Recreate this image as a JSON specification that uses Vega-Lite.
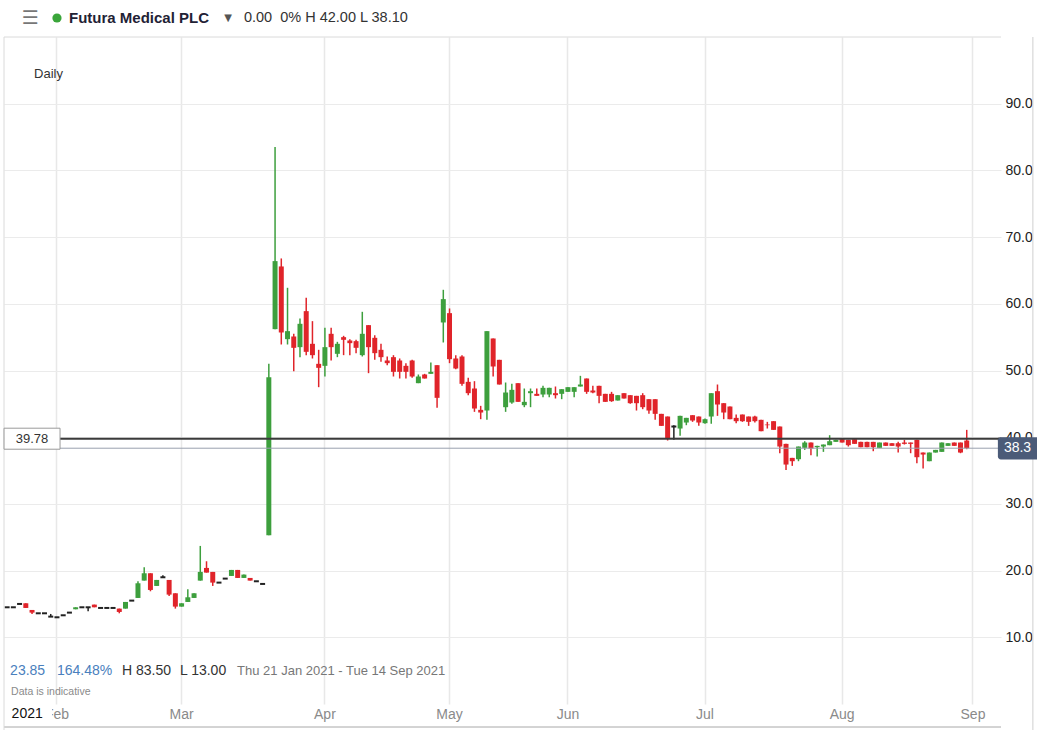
{
  "$schema": "https://vega.github.io/schema/vega-lite/v6.json",
  "width": 997,
  "height": 667,
  "autosize": "none",
  "padding": {"left": 4, "top": 37, "right": 36, "bottom": 26},
  "background": "white",
  "config": {"view": {"stroke": null}, "font": "Liberation Sans"},
  "data": {"values": [
    {"d":"2021-01-20","o":14.5,"h":14.5,"l":14.5,"c":14.5},
    {"d":"2021-01-21","o":14.5,"h":14.5,"l":14.5,"c":14.5},
    {"d":"2021-01-22","o":15.0,"h":15.0,"l":15.0,"c":15.0},
    {"d":"2021-01-25","o":15.1,"h":15.1,"l":14.4,"c":14.4},
    {"d":"2021-01-26","o":14.1,"h":14.1,"l":13.5,"c":13.7},
    {"d":"2021-01-27","o":13.6,"h":13.6,"l":13.6,"c":13.6},
    {"d":"2021-01-28","o":13.6,"h":13.6,"l":13.6,"c":13.6},
    {"d":"2021-01-29","o":13.1,"h":13.5,"l":13.1,"c":13.1},
    {"d":"2021-02-01","o":13.0,"h":13.0,"l":13.0,"c":13.0},
    {"d":"2021-02-02","o":13.3,"h":13.3,"l":13.3,"c":13.3},
    {"d":"2021-02-03","o":13.7,"h":13.7,"l":13.7,"c":13.7},
    {"d":"2021-02-04","o":14.2,"h":14.5,"l":14.2,"c":14.5},
    {"d":"2021-02-05","o":14.5,"h":14.5,"l":14.5,"c":14.5},
    {"d":"2021-02-08","o":14.5,"h":14.5,"l":13.9,"c":14.5},
    {"d":"2021-02-09","o":14.9,"h":14.9,"l":14.5,"c":14.5},
    {"d":"2021-02-10","o":14.4,"h":14.4,"l":14.4,"c":14.4},
    {"d":"2021-02-11","o":14.4,"h":14.4,"l":14.4,"c":14.4},
    {"d":"2021-02-12","o":14.4,"h":14.4,"l":14.4,"c":14.4},
    {"d":"2021-02-15","o":14.3,"h":14.3,"l":13.6,"c":13.8},
    {"d":"2021-02-16","o":14.3,"h":15.3,"l":14.3,"c":15.3},
    {"d":"2021-02-17","o":15.5,"h":15.5,"l":15.5,"c":15.5},
    {"d":"2021-02-18","o":15.9,"h":18.4,"l":15.9,"c":18.1},
    {"d":"2021-02-19","o":18.5,"h":20.5,"l":18.5,"c":19.6},
    {"d":"2021-02-22","o":19.6,"h":19.6,"l":16.9,"c":17.1},
    {"d":"2021-02-23","o":17.7,"h":18.6,"l":17.7,"c":18.6},
    {"d":"2021-02-24","o":19.0,"h":19.3,"l":19.0,"c":19.0},
    {"d":"2021-02-25","o":18.6,"h":18.6,"l":16.2,"c":16.4},
    {"d":"2021-02-26","o":16.6,"h":16.6,"l":14.3,"c":14.6},
    {"d":"2021-03-01","o":14.6,"h":15.1,"l":14.6,"c":15.1},
    {"d":"2021-03-02","o":15.3,"h":17.2,"l":15.3,"c":16.0},
    {"d":"2021-03-03","o":15.9,"h":16.6,"l":15.9,"c":16.6},
    {"d":"2021-03-04","o":18.5,"h":23.7,"l":18.5,"c":19.8},
    {"d":"2021-03-05","o":20.4,"h":21.4,"l":19.7,"c":19.7},
    {"d":"2021-03-08","o":19.8,"h":19.8,"l":17.7,"c":18.2},
    {"d":"2021-03-09","o":18.2,"h":18.2,"l":18.2,"c":18.2},
    {"d":"2021-03-10","o":18.8,"h":18.8,"l":18.8,"c":18.8},
    {"d":"2021-03-11","o":19.2,"h":20.1,"l":19.2,"c":20.1},
    {"d":"2021-03-12","o":20.1,"h":20.1,"l":18.9,"c":18.9},
    {"d":"2021-03-15","o":18.9,"h":19.4,"l":18.9,"c":19.4},
    {"d":"2021-03-16","o":18.9,"h":18.9,"l":18.5,"c":18.5},
    {"d":"2021-03-17","o":18.4,"h":18.4,"l":18.4,"c":18.4},
    {"d":"2021-03-18","o":18.0,"h":18.0,"l":18.0,"c":18.0},
    {"d":"2021-03-19","o":25.3,"h":51.0,"l":25.3,"c":49.0},
    {"d":"2021-03-22","o":56.2,"h":83.5,"l":56.2,"c":66.4},
    {"d":"2021-03-23","o":65.6,"h":66.8,"l":53.9,"c":55.7},
    {"d":"2021-03-24","o":54.7,"h":62.4,"l":53.9,"c":55.9},
    {"d":"2021-03-25","o":55.1,"h":55.5,"l":49.9,"c":53.4},
    {"d":"2021-03-26","o":53.5,"h":57.8,"l":52.0,"c":57.0},
    {"d":"2021-03-29","o":58.9,"h":60.9,"l":52.3,"c":52.8},
    {"d":"2021-03-30","o":54.0,"h":57.4,"l":51.8,"c":52.3},
    {"d":"2021-03-31","o":51.0,"h":53.1,"l":47.5,"c":50.4},
    {"d":"2021-04-01","o":50.7,"h":56.4,"l":49.1,"c":53.5},
    {"d":"2021-04-06","o":55.5,"h":56.4,"l":51.5,"c":53.5},
    {"d":"2021-04-07","o":52.5,"h":54.3,"l":52.0,"c":54.0},
    {"d":"2021-04-08","o":55.0,"h":55.2,"l":52.3,"c":54.6},
    {"d":"2021-04-09","o":54.5,"h":54.7,"l":52.3,"c":54.1},
    {"d":"2021-04-12","o":54.4,"h":54.6,"l":52.6,"c":53.4},
    {"d":"2021-04-13","o":52.3,"h":58.8,"l":52.1,"c":55.5},
    {"d":"2021-04-14","o":56.8,"h":56.8,"l":49.6,"c":53.5},
    {"d":"2021-04-15","o":54.9,"h":55.3,"l":51.6,"c":52.6},
    {"d":"2021-04-16","o":53.1,"h":54.0,"l":51.3,"c":52.0},
    {"d":"2021-04-19","o":51.5,"h":52.1,"l":50.8,"c":51.1},
    {"d":"2021-04-20","o":52.0,"h":52.3,"l":49.1,"c":49.8},
    {"d":"2021-04-21","o":51.5,"h":51.8,"l":48.8,"c":49.8},
    {"d":"2021-04-22","o":50.7,"h":51.1,"l":48.8,"c":49.8},
    {"d":"2021-04-23","o":51.5,"h":51.6,"l":48.9,"c":49.1},
    {"d":"2021-04-26","o":48.1,"h":49.4,"l":48.1,"c":49.1},
    {"d":"2021-04-27","o":49.4,"h":49.5,"l":48.8,"c":48.8},
    {"d":"2021-04-28","o":49.5,"h":51.2,"l":49.5,"c":49.8},
    {"d":"2021-04-29","o":50.8,"h":50.8,"l":44.4,"c":45.9},
    {"d":"2021-04-30","o":57.2,"h":62.1,"l":54.2,"c":60.7},
    {"d":"2021-05-04","o":58.6,"h":59.3,"l":51.1,"c":51.7},
    {"d":"2021-05-05","o":51.8,"h":52.3,"l":50.2,"c":50.3},
    {"d":"2021-05-06","o":52.1,"h":52.3,"l":47.7,"c":48.0},
    {"d":"2021-05-07","o":48.3,"h":48.9,"l":46.3,"c":46.6},
    {"d":"2021-05-10","o":47.3,"h":48.4,"l":43.8,"c":44.3},
    {"d":"2021-05-11","o":44.1,"h":44.7,"l":42.7,"c":43.7},
    {"d":"2021-05-12","o":44.0,"h":55.9,"l":42.6,"c":55.9},
    {"d":"2021-05-13","o":54.8,"h":54.8,"l":49.1,"c":50.6},
    {"d":"2021-05-14","o":51.6,"h":51.6,"l":47.9,"c":47.9},
    {"d":"2021-05-17","o":44.5,"h":48.2,"l":43.8,"c":46.7},
    {"d":"2021-05-18","o":45.2,"h":48.0,"l":45.0,"c":47.1},
    {"d":"2021-05-19","o":48.1,"h":48.1,"l":45.3,"c":45.3},
    {"d":"2021-05-20","o":44.8,"h":47.3,"l":44.5,"c":45.3},
    {"d":"2021-05-21","o":46.6,"h":47.3,"l":44.5,"c":46.9},
    {"d":"2021-05-24","o":46.5,"h":47.3,"l":46.2,"c":46.2},
    {"d":"2021-05-25","o":46.4,"h":47.7,"l":46.0,"c":47.4},
    {"d":"2021-05-26","o":46.4,"h":47.4,"l":46.0,"c":47.4},
    {"d":"2021-05-27","o":46.6,"h":47.6,"l":45.8,"c":46.3},
    {"d":"2021-05-28","o":46.5,"h":47.2,"l":45.7,"c":47.2},
    {"d":"2021-06-01","o":46.8,"h":47.5,"l":46.8,"c":47.5},
    {"d":"2021-06-02","o":46.8,"h":47.5,"l":46.0,"c":47.5},
    {"d":"2021-06-03","o":47.6,"h":49.2,"l":47.6,"c":47.9},
    {"d":"2021-06-04","o":48.8,"h":48.8,"l":46.5,"c":46.8},
    {"d":"2021-06-07","o":47.0,"h":47.7,"l":46.6,"c":46.7},
    {"d":"2021-06-08","o":47.7,"h":47.7,"l":45.1,"c":46.2},
    {"d":"2021-06-09","o":46.5,"h":46.5,"l":45.3,"c":45.3},
    {"d":"2021-06-10","o":46.5,"h":46.8,"l":45.3,"c":45.4},
    {"d":"2021-06-11","o":45.5,"h":46.3,"l":45.5,"c":46.3},
    {"d":"2021-06-14","o":46.6,"h":46.6,"l":45.8,"c":45.8},
    {"d":"2021-06-15","o":46.3,"h":46.3,"l":45.0,"c":45.1},
    {"d":"2021-06-16","o":46.2,"h":46.2,"l":44.0,"c":45.1},
    {"d":"2021-06-17","o":46.3,"h":46.6,"l":44.2,"c":44.5},
    {"d":"2021-06-18","o":45.7,"h":45.7,"l":43.5,"c":44.0},
    {"d":"2021-06-21","o":45.7,"h":45.7,"l":42.6,"c":43.5},
    {"d":"2021-06-22","o":43.5,"h":43.5,"l":41.7,"c":41.7},
    {"d":"2021-06-23","o":43.1,"h":43.1,"l":39.5,"c":39.8},
    {"d":"2021-06-24","o":41.6,"h":41.8,"l":39.6,"c":41.6},
    {"d":"2021-06-25","o":41.3,"h":43.2,"l":40.2,"c":43.2},
    {"d":"2021-06-28","o":42.2,"h":42.9,"l":41.8,"c":42.9},
    {"d":"2021-06-29","o":43.3,"h":43.3,"l":42.3,"c":42.5},
    {"d":"2021-06-30","o":43.1,"h":43.1,"l":41.7,"c":42.2},
    {"d":"2021-07-01","o":42.1,"h":42.8,"l":42.0,"c":42.7},
    {"d":"2021-07-02","o":43.1,"h":46.6,"l":42.0,"c":46.6},
    {"d":"2021-07-05","o":46.9,"h":47.9,"l":43.2,"c":44.9},
    {"d":"2021-07-06","o":45.1,"h":45.1,"l":42.7,"c":43.7},
    {"d":"2021-07-07","o":44.6,"h":44.6,"l":42.7,"c":42.7},
    {"d":"2021-07-08","o":42.9,"h":43.4,"l":42.1,"c":42.4},
    {"d":"2021-07-09","o":43.4,"h":43.4,"l":42.3,"c":42.4},
    {"d":"2021-07-12","o":43.1,"h":43.1,"l":41.7,"c":42.3},
    {"d":"2021-07-13","o":43.1,"h":43.2,"l":42.2,"c":42.4},
    {"d":"2021-07-14","o":42.6,"h":42.6,"l":40.9,"c":40.9},
    {"d":"2021-07-15","o":41.9,"h":42.3,"l":41.3,"c":41.8},
    {"d":"2021-07-16","o":42.4,"h":42.4,"l":41.1,"c":41.1},
    {"d":"2021-07-19","o":41.6,"h":41.6,"l":37.6,"c":38.6},
    {"d":"2021-07-20","o":39.0,"h":39.0,"l":35.1,"c":35.9},
    {"d":"2021-07-21","o":36.9,"h":36.9,"l":35.7,"c":36.4},
    {"d":"2021-07-22","o":36.7,"h":38.6,"l":36.4,"c":38.6},
    {"d":"2021-07-23","o":38.4,"h":39.4,"l":38.1,"c":39.2},
    {"d":"2021-07-26","o":39.2,"h":39.2,"l":37.3,"c":38.3},
    {"d":"2021-07-27","o":38.5,"h":38.7,"l":37.1,"c":38.7},
    {"d":"2021-07-28","o":38.6,"h":38.9,"l":37.8,"c":38.9},
    {"d":"2021-07-29","o":38.8,"h":40.3,"l":38.8,"c":39.4},
    {"d":"2021-07-30","o":39.3,"h":39.6,"l":39.3,"c":39.6},
    {"d":"2021-08-02","o":39.7,"h":39.7,"l":39.2,"c":39.2},
    {"d":"2021-08-03","o":39.6,"h":39.6,"l":38.6,"c":38.8},
    {"d":"2021-08-04","o":39.7,"h":39.7,"l":39.0,"c":39.0},
    {"d":"2021-08-05","o":39.3,"h":39.3,"l":38.5,"c":38.5},
    {"d":"2021-08-06","o":39.3,"h":39.3,"l":38.5,"c":38.5},
    {"d":"2021-08-09","o":39.3,"h":39.3,"l":37.9,"c":38.5},
    {"d":"2021-08-10","o":38.4,"h":39.2,"l":38.4,"c":39.2},
    {"d":"2021-08-11","o":39.2,"h":39.2,"l":38.7,"c":38.7},
    {"d":"2021-08-12","o":39.1,"h":39.1,"l":38.7,"c":38.7},
    {"d":"2021-08-13","o":39.1,"h":39.3,"l":37.7,"c":38.6},
    {"d":"2021-08-16","o":39.2,"h":39.6,"l":38.9,"c":39.0},
    {"d":"2021-08-17","o":39.2,"h":39.2,"l":37.6,"c":39.0},
    {"d":"2021-08-18","o":39.6,"h":39.6,"l":36.1,"c":37.0},
    {"d":"2021-08-19","o":37.7,"h":37.7,"l":35.3,"c":37.4},
    {"d":"2021-08-20","o":36.4,"h":37.7,"l":36.4,"c":37.7},
    {"d":"2021-08-23","o":37.7,"h":38.1,"l":37.7,"c":38.1},
    {"d":"2021-08-24","o":37.8,"h":39.2,"l":37.8,"c":39.2},
    {"d":"2021-08-25","o":38.7,"h":39.1,"l":38.7,"c":39.1},
    {"d":"2021-08-26","o":39.2,"h":39.2,"l":38.7,"c":38.7},
    {"d":"2021-08-27","o":39.2,"h":39.2,"l":37.6,"c":37.7},
    {"d":"2021-08-31","o":39.5,"h":41.1,"l":38.2,"c":38.35}
  ]},
  "layer": [
    {
      "mark": {"type": "rule", "strokeWidth": 1.5},
      "encoding": {
        "x": {"field": "d", "type": "ordinal", "title": null,
          "scale": {"type": "band", "paddingInner": 0.2, "paddingOuter": 0.1, "round": false,
            "domain": ["2021-01-20","2021-01-21","2021-01-22","2021-01-25","2021-01-26","2021-01-27","2021-01-28","2021-01-29",
              "2021-02-01","2021-02-02","2021-02-03","2021-02-04","2021-02-05","2021-02-08","2021-02-09","2021-02-10","2021-02-11","2021-02-12","2021-02-15","2021-02-16","2021-02-17","2021-02-18","2021-02-19","2021-02-22","2021-02-23","2021-02-24","2021-02-25","2021-02-26",
              "2021-03-01","2021-03-02","2021-03-03","2021-03-04","2021-03-05","2021-03-08","2021-03-09","2021-03-10","2021-03-11","2021-03-12","2021-03-15","2021-03-16","2021-03-17","2021-03-18","2021-03-19","2021-03-22","2021-03-23","2021-03-24","2021-03-25","2021-03-26","2021-03-29","2021-03-30","2021-03-31",
              "2021-04-01","2021-04-06","2021-04-07","2021-04-08","2021-04-09","2021-04-12","2021-04-13","2021-04-14","2021-04-15","2021-04-16","2021-04-19","2021-04-20","2021-04-21","2021-04-22","2021-04-23","2021-04-26","2021-04-27","2021-04-28","2021-04-29","2021-04-30",
              "2021-05-04","2021-05-05","2021-05-06","2021-05-07","2021-05-10","2021-05-11","2021-05-12","2021-05-13","2021-05-14","2021-05-17","2021-05-18","2021-05-19","2021-05-20","2021-05-21","2021-05-24","2021-05-25","2021-05-26","2021-05-27","2021-05-28",
              "2021-06-01","2021-06-02","2021-06-03","2021-06-04","2021-06-07","2021-06-08","2021-06-09","2021-06-10","2021-06-11","2021-06-14","2021-06-15","2021-06-16","2021-06-17","2021-06-18","2021-06-21","2021-06-22","2021-06-23","2021-06-24","2021-06-25","2021-06-28","2021-06-29","2021-06-30",
              "2021-07-01","2021-07-02","2021-07-05","2021-07-06","2021-07-07","2021-07-08","2021-07-09","2021-07-12","2021-07-13","2021-07-14","2021-07-15","2021-07-16","2021-07-19","2021-07-20","2021-07-21","2021-07-22","2021-07-23","2021-07-26","2021-07-27","2021-07-28","2021-07-29","2021-07-30",
              "2021-08-02","2021-08-03","2021-08-04","2021-08-05","2021-08-06","2021-08-09","2021-08-10","2021-08-11","2021-08-12","2021-08-13","2021-08-16","2021-08-17","2021-08-18","2021-08-19","2021-08-20","2021-08-23","2021-08-24","2021-08-25","2021-08-26","2021-08-27","2021-08-31",
              "2021-09-01","2021-09-02","2021-09-03","2021-09-06","2021-09-07"]},
          "axis": {"values": ["2021-02-01","2021-03-01","2021-04-01","2021-05-04","2021-06-01","2021-07-01","2021-08-02","2021-09-01"],
            "labelExpr": "utcFormat(toDate(datum.value), '%b')", "bandPosition": 0.5,
            "grid": true, "gridColor": "#e8e8e8", "gridWidth": 1.5, "ticks": false, "domain": false,
            "labelAngle": 0, "labelColor": "#8a8a8a", "labelFontSize": 14, "labelPadding": 3, "labelFont": "Liberation Sans", "zindex": 0}},
        "y": {"field": "l", "type": "quantitative", "title": null,
          "scale": {"domain": [0, 100], "nice": false, "zero": false},
          "axis": {"orient": "right", "values": [10,20,30,40,50,60,70,80,90], "format": ".1f",
            "grid": true, "gridColor": "#ebebeb", "gridWidth": 1, "ticks": false, "domain": false,
            "labelColor": "#222222", "labelFontSize": 14, "labelPadding": 4, "labelFont": "Liberation Sans", "zindex": 0}},
        "y2": {"field": "h"},
        "color": {"condition": [{"test": "datum.c > datum.o", "value": "#3d9f3d"}, {"test": "datum.c < datum.o", "value": "#e0242a"}], "value": "#222222"}
      }
    },
    {
      "mark": {"type": "bar"},
      "encoding": {
        "x": {"field": "d", "type": "ordinal"},
        "y": {"field": "o", "type": "quantitative", "scale": {"domain": [0, 100], "nice": false, "zero": false}},
        "y2": {"field": "c"},
        "color": {"condition": [{"test": "datum.c > datum.o", "value": "#3d9f3d"}, {"test": "datum.c < datum.o", "value": "#e0242a"}], "value": "#222222"}
      }
    },
    {
      "transform": [{"filter": "datum.o == datum.c"}],
      "mark": {"type": "tick", "orient": "horizontal", "thickness": 2, "size": 5, "color": "#222222", "opacity": 1},
      "encoding": {
        "x": {"field": "d", "type": "ordinal"},
        "y": {"field": "c", "type": "quantitative", "scale": {"domain": [0, 100], "nice": false, "zero": false}}
      }
    },
    {
      "data": {"values": [{}]},
      "mark": {"type": "rule", "color": "#9aa1ae", "strokeWidth": 1},
      "encoding": {"y": {"datum": 38.35, "type": "quantitative", "scale": {"domain": [0, 100], "nice": false, "zero": false}}}
    },
    {
      "data": {"values": [{}]},
      "mark": {"type": "rule", "color": "#3b3b3b", "strokeWidth": 2},
      "encoding": {"y": {"datum": 39.78, "type": "quantitative", "scale": {"domain": [0, 100], "nice": false, "zero": false}}}
    },
    {
      "data": {"values": [{}]},
      "mark": {"type": "bar", "size": 34, "xOffset": 17, "color": "#3b3b3b"},
      "encoding": {
        "x": {"datum": "2021-09-07", "type": "ordinal"},
        "y": {"datum": 39.93, "type": "quantitative", "scale": {"domain": [0, 100], "nice": false, "zero": false}},
        "y2": {"datum": 39.63}
      }
    },
    {
      "data": {"values": [{}]},
      "mark": {"type": "rule", "color": "#dadada", "strokeWidth": 1},
      "encoding": {"y": {"datum": 100, "type": "quantitative", "scale": {"domain": [0, 100], "nice": false, "zero": false}}}
    },
    {
      "data": {"values": [{}]},
      "mark": {"type": "rule", "color": "#a8a8a8", "strokeWidth": 1},
      "encoding": {"y": {"datum": -3.45, "type": "quantitative", "scale": {"domain": [0, 100], "nice": false, "zero": false}}}
    },
    {
      "data": {"values": [{}]},
      "mark": {"type": "bar", "size": 1, "xOffset": -3.1, "color": "#dadada"},
      "encoding": {
        "x": {"datum": "2021-01-20", "type": "ordinal"},
        "y": {"datum": 100, "type": "quantitative", "scale": {"domain": [0, 100], "nice": false, "zero": false}},
        "y2": {"datum": -3.9}
      }
    },
    {
      "data": {"values": [{}]},
      "mark": {"type": "bar", "size": 1, "xOffset": 35, "color": "#cfcfcf"},
      "encoding": {
        "x": {"datum": "2021-09-07", "type": "ordinal"},
        "y": {"datum": 100, "type": "quantitative", "scale": {"domain": [0, 100], "nice": false, "zero": false}},
        "y2": {"datum": -3.9}
      }
    },
    {
      "data": {"values": [{}]},
      "mark": {"type": "bar", "size": 44, "xOffset": -2, "color": "white"},
      "encoding": {
        "x": {"datum": "2021-01-26", "type": "ordinal"},
        "y": {"datum": -0.15, "type": "quantitative", "scale": {"domain": [0, 100], "nice": false, "zero": false}},
        "y2": {"datum": -3.2}
      }
    },
    {
      "data": {"values": [{}]},
      "mark": {"type": "bar", "size": 56, "fill": "white", "stroke": "#9a9a9a", "strokeWidth": 1},
      "encoding": {
        "x": {"datum": "2021-01-26", "type": "ordinal"},
        "y": {"datum": 41.35, "type": "quantitative", "scale": {"domain": [0, 100], "nice": false, "zero": false}},
        "y2": {"datum": 38.2}
      }
    },
    {
      "data": {"values": [{}]},
      "mark": {"type": "bar", "size": 42, "xOffset": 21, "cornerRadius": 3, "color": "#4b5b78"},
      "encoding": {
        "x": {"datum": "2021-09-07", "type": "ordinal"},
        "y": {"datum": 40.0, "type": "quantitative", "scale": {"domain": [0, 100], "nice": false, "zero": false}},
        "y2": {"datum": 36.65}
      }
    },
    {
      "data": {"values": [{}]},
      "mark": {"type": "text", "text": "39.78", "align": "center", "baseline": "middle", "fontSize": 13, "color": "#333333"},
      "encoding": {
        "x": {"datum": "2021-01-26", "type": "ordinal"},
        "y": {"datum": 39.8, "type": "quantitative", "scale": {"domain": [0, 100], "nice": false, "zero": false}}
      }
    },
    {
      "data": {"values": [{}]},
      "mark": {"type": "text", "text": "38.3", "align": "left", "baseline": "middle", "fontSize": 14, "color": "white", "dx": 6},
      "encoding": {
        "x": {"datum": "2021-09-07", "type": "ordinal"},
        "y": {"datum": 38.35, "type": "quantitative", "scale": {"domain": [0, 100], "nice": false, "zero": false}}
      }
    },
    {
      "data": {"values": [{}]},
      "mark": {"type": "text", "text": "☰", "font": "DejaVu Sans", "align": "center", "baseline": "middle", "fontSize": 19, "color": "#777777", "dx": -2},
      "encoding": {
        "x": {"datum": "2021-01-26", "type": "ordinal"},
        "y": {"datum": 102.85, "type": "quantitative", "scale": {"domain": [0, 100], "nice": false, "zero": false}}
      }
    },
    {
      "data": {"values": [{}]},
      "mark": {"type": "point", "filled": true, "size": 85, "color": "#3aa53a", "opacity": 1},
      "encoding": {
        "x": {"datum": "2021-02-01", "type": "ordinal"},
        "y": {"datum": 102.85, "type": "quantitative", "scale": {"domain": [0, 100], "nice": false, "zero": false}}
      }
    },
    {
      "data": {"values": [{}]},
      "mark": {"type": "text", "text": "Futura Medical PLC", "align": "left", "baseline": "middle", "fontSize": 15, "fontWeight": "bold", "color": "#1f2235", "dx": -0.4},
      "encoding": {
        "x": {"datum": "2021-02-03", "type": "ordinal"},
        "y": {"datum": 102.85, "type": "quantitative", "scale": {"domain": [0, 100], "nice": false, "zero": false}}
      }
    },
    {
      "data": {"values": [{}]},
      "mark": {"type": "text", "text": "▼", "font": "DejaVu Sans", "align": "center", "baseline": "middle", "fontSize": 10, "color": "#555555", "dx": -3.4},
      "encoding": {
        "x": {"datum": "2021-03-11", "type": "ordinal"},
        "y": {"datum": 102.85, "type": "quantitative", "scale": {"domain": [0, 100], "nice": false, "zero": false}}
      }
    },
    {
      "data": {"values": [{}]},
      "mark": {"type": "text", "text": "0.00\u00a0\u00a00% H 42.00 L 38.10", "align": "left", "baseline": "middle", "fontSize": 14.5, "color": "#333333"},
      "encoding": {
        "x": {"datum": "2021-03-15", "type": "ordinal"},
        "y": {"datum": 102.85, "type": "quantitative", "scale": {"domain": [0, 100], "nice": false, "zero": false}}
      }
    },
    {
      "data": {"values": [{}]},
      "mark": {"type": "text", "text": "Daily", "align": "left", "baseline": "middle", "fontSize": 13, "color": "#333333", "dx": 2},
      "encoding": {
        "x": {"datum": "2021-01-26", "type": "ordinal"},
        "y": {"datum": 94.45, "type": "quantitative", "scale": {"domain": [0, 100], "nice": false, "zero": false}}
      }
    },
    {
      "data": {"values": [{}]},
      "mark": {"type": "text", "text": "23.85", "align": "left", "baseline": "middle", "fontSize": 14, "color": "#4a80bd", "dx": 3},
      "encoding": {
        "x": {"datum": "2021-01-20", "type": "ordinal"},
        "y": {"datum": 4.95, "type": "quantitative", "scale": {"domain": [0, 100], "nice": false, "zero": false}}
      }
    },
    {
      "data": {"values": [{}]},
      "mark": {"type": "text", "text": "164.48%", "align": "left", "baseline": "middle", "fontSize": 14, "color": "#4a80bd", "dx": 0},
      "encoding": {
        "x": {"datum": "2021-02-01", "type": "ordinal"},
        "y": {"datum": 4.95, "type": "quantitative", "scale": {"domain": [0, 100], "nice": false, "zero": false}}
      }
    },
    {
      "data": {"values": [{}]},
      "mark": {"type": "text", "text": "H 83.50", "align": "left", "baseline": "middle", "fontSize": 14, "color": "#333333", "dx": -3.5},
      "encoding": {
        "x": {"datum": "2021-02-16", "type": "ordinal"},
        "y": {"datum": 4.95, "type": "quantitative", "scale": {"domain": [0, 100], "nice": false, "zero": false}}
      }
    },
    {
      "data": {"values": [{}]},
      "mark": {"type": "text", "text": "L 13.00", "align": "left", "baseline": "middle", "fontSize": 14, "color": "#333333", "dx": -1.6},
      "encoding": {
        "x": {"datum": "2021-03-01", "type": "ordinal"},
        "y": {"datum": 4.95, "type": "quantitative", "scale": {"domain": [0, 100], "nice": false, "zero": false}}
      }
    },
    {
      "data": {"values": [{}]},
      "mark": {"type": "text", "text": "Thu 21 Jan 2021 - Tue 14 Sep 2021", "align": "left", "baseline": "middle", "fontSize": 13, "color": "#777777", "dx": -0.6},
      "encoding": {
        "x": {"datum": "2021-03-12", "type": "ordinal"},
        "y": {"datum": 4.95, "type": "quantitative", "scale": {"domain": [0, 100], "nice": false, "zero": false}}
      }
    },
    {
      "data": {"values": [{}]},
      "mark": {"type": "text", "text": "Data is indicative", "align": "left", "baseline": "middle", "fontSize": 10.5, "color": "#8a8a8a", "dx": 4},
      "encoding": {
        "x": {"datum": "2021-01-20", "type": "ordinal"},
        "y": {"datum": 1.8, "type": "quantitative", "scale": {"domain": [0, 100], "nice": false, "zero": false}}
      }
    },
    {
      "data": {"values": [{}]},
      "mark": {"type": "text", "text": "2021", "align": "left", "baseline": "middle", "fontSize": 14, "color": "#111111", "dx": 4.5},
      "encoding": {
        "x": {"datum": "2021-01-20", "type": "ordinal"},
        "y": {"datum": -1.5, "type": "quantitative", "scale": {"domain": [0, 100], "nice": false, "zero": false}}
      }
    }
  ]
}
